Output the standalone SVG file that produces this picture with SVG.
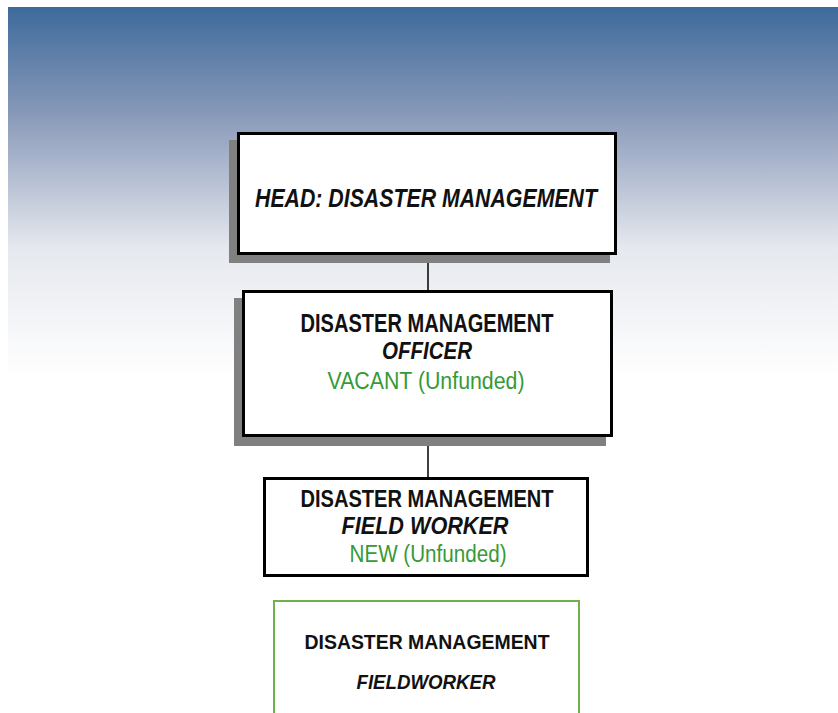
<svg xmlns="http://www.w3.org/2000/svg" width="838" height="713" viewBox="0 0 838 713">
<defs>
<linearGradient id="bg" x1="0" y1="7" x2="0" y2="377" gradientUnits="userSpaceOnUse">
<stop offset="0" stop-color="#3d6a9b"/>
<stop offset="0.3" stop-color="#8b9bba"/>
<stop offset="0.65" stop-color="#e5e8ee"/>
<stop offset="1" stop-color="#ffffff"/>
</linearGradient>
</defs>
<style>
.box{fill:#fff;stroke:#000;stroke-width:3}
.shadow{fill:#808080}
.t{font-family:"Liberation Sans",Arial,sans-serif;font-weight:bold;fill:#111;text-anchor:middle}
.i{font-style:italic}
.g{font-family:"Liberation Sans",Arial,sans-serif;fill:#369a36;text-anchor:middle}
.conn{stroke:#000;stroke-width:1.5;fill:none}
</style>
<rect x="8" y="7" width="830" height="370" fill="url(#bg)"/>
<g id="connectors">
<line class="conn" x1="428" y1="255" x2="428" y2="290"/>
<line class="conn" x1="428" y1="437" x2="428" y2="477"/>
</g>
<g id="head">
<rect class="shadow" x="229" y="140" width="381" height="123"/>
<rect class="box" x="238.5" y="133.5" width="377" height="120"/>
<text class="t i" x="426" y="207" font-size="26" textLength="342" lengthAdjust="spacingAndGlyphs">HEAD: DISASTER MANAGEMENT</text>
</g>
<g id="officer">
<rect class="shadow" x="234" y="298" width="372" height="148"/>
<rect class="box" x="243.5" y="291.5" width="368" height="144"/>
<text class="t" x="427" y="332" font-size="25" textLength="253" lengthAdjust="spacingAndGlyphs">DISASTER  MANAGEMENT</text>
<text class="t i" x="427" y="359" font-size="23" textLength="90" lengthAdjust="spacingAndGlyphs">OFFICER</text>
<text class="g" x="426" y="389" font-size="23" textLength="197" lengthAdjust="spacingAndGlyphs">VACANT  (Unfunded)</text>
</g>
<g id="fieldworker">
<rect class="box" x="264.5" y="478.5" width="323" height="97"/>
<text class="t" x="427" y="507" font-size="24" textLength="253" lengthAdjust="spacingAndGlyphs">DISASTER  MANAGEMENT</text>
<text class="t i" x="425" y="534" font-size="23" textLength="167" lengthAdjust="spacingAndGlyphs">FIELD WORKER</text>
<text class="g" x="428" y="562" font-size="23" textLength="157" lengthAdjust="spacingAndGlyphs">NEW (Unfunded)</text>
</g>
<g id="fieldworker2">
<rect x="274" y="601" width="305" height="130" fill="#fff" stroke="#72b04a" stroke-width="2"/>
<text class="t" x="427" y="649" font-size="20" textLength="245" lengthAdjust="spacingAndGlyphs">DISASTER MANAGEMENT</text>
<text class="t i" x="426" y="689" font-size="20" textLength="139" lengthAdjust="spacingAndGlyphs">FIELDWORKER</text>
</g>
</svg>
